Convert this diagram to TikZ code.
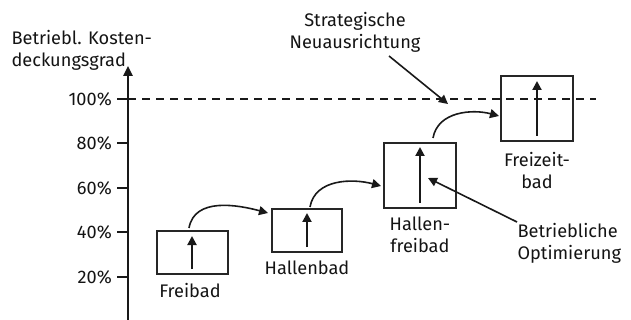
\documentclass[tikz,border=0pt]{standalone}
\usepackage{fontspec}
\setmainfont{Fira Sans}
\usetikzlibrary{arrows.meta}
\begin{document}
\begin{tikzpicture}[x=1pt,y=-1pt,
  every node/.style={font=\fontsize{18.2}{22}\selectfont, text=black!92},
  stagebox/.style={draw=black!85, line width=1.8pt, inner sep=0pt},
  inarrow/.style={draw=black!90, line width=2pt, -{Triangle[length=9pt,width=9pt]}},
  curvearrow/.style={draw=black!90, line width=1.6pt, -{Triangle[length=9pt,width=9pt]}},
  notearrow/.style={draw=black!90, line width=1.6pt, -{Triangle[length=9pt,width=9pt]}},
  tick/.style={draw=black!90, line width=2pt}]
\useasboundingbox (0,0) rectangle (631,320);
% axis
\coordinate (axb) at (128,320);
\coordinate (axt) at (128,66);
\draw[draw=black!90, line width=2.4pt, -{Triangle[length=10pt,width=9pt]}] (axb) -- (axt);
\node[align=left, anchor=west] (ylab) at (8,50) {Betriebl. Kosten-\\deckungsgrad};
% ticks
\foreach \v/\y in {100/99,80/143.5,60/188,40/232,20/277}{
  \coordinate (t\v a) at (117,\y);
  \coordinate (t\v b) at (128,\y);
  \draw[tick] (t\v a) -- (t\v b);
  \node[anchor=east, inner sep=0pt] (lab\v) at (112,\y) {\v\%};
}
% dashed 100% line
\coordinate (dashend) at (596,99);
\draw[draw=black!90, line width=1.6pt, dash pattern=on 8pt off 6pt] (t100b) -- (dashend);
% boxes
\node[stagebox, minimum width=71pt, minimum height=43pt] (b1) at (192.5,252.5) {};
\node[stagebox, minimum width=70pt, minimum height=43pt] (b2) at (307,230.5) {};
\node[stagebox, minimum width=72pt, minimum height=65pt] (b3) at (420,175.5) {};
\node[stagebox, minimum width=72pt, minimum height=65pt] (b4) at (537,108.5) {};
% inner arrows
\coordinate (a1s) at (192,269); \coordinate (a1e) at (192,236);
\coordinate (a2s) at (307,247); \coordinate (a2e) at (307,213);
\coordinate (a3s) at (420,203); \coordinate (a3e) at (420,147);
\coordinate (a4s) at (537,136); \coordinate (a4e) at (537,81);
\draw[inarrow] (a1s) -- (a1e);
\draw[inarrow] (a2s) -- (a2e);
\draw[inarrow] (a3s) -- (a3e);
\draw[inarrow] (a4s) -- (a4e);
% labels
\node (l1) at (190,291) {Freibad};
\node (l2) at (307,268) {Hallenbad};
\node[align=center] (l3) at (420,235) {Hallen-\\freibad};
\node[align=center] (l4) at (537,171) {Freizeit-\\bad};
% curved arrows
\coordinate (c1s) at (189,228); \coordinate (c1e) at (268,213);
\coordinate (c2s) at (310,207); \coordinate (c2e) at (381,186);
\coordinate (c3s) at (433,138); \coordinate (c3e) at (499,116);
\draw[curvearrow] (c1s) to[out=80,in=165] (c1e);
\draw[curvearrow] (c2s) to[out=80,in=165] (c2e);
\draw[curvearrow] (c3s) to[out=80,in=165] (c3e);
% notes
\node[align=center] (sn) at (355,32) {Strategische\\Neuausrichtung};
\coordinate (sns) at (389,56); \coordinate (sne) at (448,104);
\draw[notearrow] (sns) -- (sne);
\node[align=left, anchor=west] (bo) at (514,243) {Betriebliche\\Optimierung};
\coordinate (bos) at (517,222); \coordinate (boe) at (428,178);
\draw[notearrow] (bos) -- (boe);
\end{tikzpicture}
\end{document}
